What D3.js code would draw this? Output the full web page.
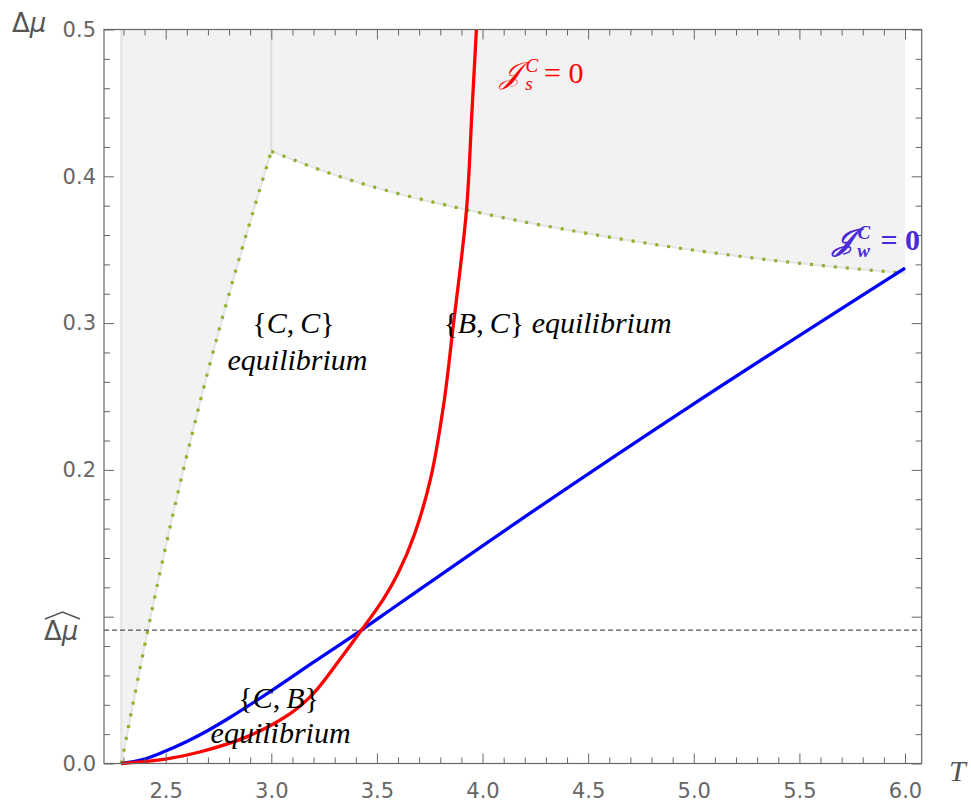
<!DOCTYPE html>
<html>
<head>
<meta charset="utf-8">
<script src="https://cdn.jsdelivr.net/npm/d3@7"></script>
<style>
  body { margin: 0; background: #fff; }
  .tick text { font-family: "DejaVu Sans", sans-serif; font-size: 21px; fill: #666; }
  .lbl { font-family: "Liberation Serif", serif; font-size: 30px; }
</style>
</head>
<body>
<svg id="svg"></svg>
<script>
// values
const T0 = 2.29;
const xTicks = [2.5, 3.0, 3.5, 4.0, 4.5, 5.0, 5.5, 6.0];
const yTicks = [0.0, 0.1, 0.2, 0.3, 0.4, 0.5];
const yTickLabels = ['0.0', '', '0.2', '0.3', '0.4', '0.5'];
const muHat = 0.0909;

// boundary of the shaded region (dotted)
const dottedLeftT = [2.29, 2.40, 2.53, 2.666, 3.0];
const dottedLeftMu = [0, 0.080, 0.167, 0.248, 0.417];
const dottedRightT = [3.0, 3.32, 3.93, 4.5, 5.36, 6.0];
const dottedRightMu = [0.417, 0.400, 0.377, 0.361, 0.343, 0.334];

// J_s^C = 0 (red)
const redT = [2.29, 2.5, 2.666, 2.886, 3.091, 3.201, 3.328, 3.427, 3.53, 3.6, 3.675, 3.754, 3.816, 3.859, 3.924, 3.95, 3.971];
const redMu = [0, 0.003, 0.008, 0.0183, 0.0342, 0.048, 0.0715, 0.0909, 0.1118, 0.1296, 0.155, 0.194, 0.2445, 0.2953, 0.377, 0.4445, 0.5];

// J_w^C = 0 (blue)
const blueT = [2.29, 2.4, 2.5, 2.6, 2.7, 2.8, 3.0, 3.2, 3.427, 3.612, 4.179, 5.0, 6.0];
const blueMu = [0, 0.003, 0.0085, 0.015, 0.0225, 0.031, 0.0495, 0.069, 0.0909, 0.1095, 0.166, 0.245, 0.3375];

const width = 971, height = 804;
const svg = d3.select('#svg').attr('width', width).attr('height', height);

const x = d3.scaleLinear().domain([2.208, 6.079]).range([104, 921.7]);
const y = d3.scaleLinear().domain([0, 0.5]).range([763.5, 29.5]);

const zip = (a, b) => a.map((t, i) => [t, b[i]]);
const left = zip(dottedLeftT, dottedLeftMu);
const right = zip(dottedRightT, dottedRightMu);

const smooth = d3.line().x(d => x(d[0])).y(d => y(d[1])).curve(d3.curveMonotoneX);
const spline = d3.line().x(d => x(d[0])).y(d => y(d[1])).curve(d3.curveCatmullRom.alpha(0.5));

// shaded region above the dotted curve
const region = [...left, ...right.slice(1), [6.0, 0.5], [T0, 0.5]];
svg.append('path')
  .attr('d', d3.line().x(d => x(d[0])).y(d => y(d[1]))(region))
  .attr('fill', '#f2f2f2');

// faint edges of the region
svg.append('path').attr('d', smooth(left)).attr('fill', 'none').attr('stroke', '#e4e4e4').attr('stroke-width', 2);
svg.append('path').attr('d', smooth(right)).attr('fill', 'none').attr('stroke', '#e4e4e4').attr('stroke-width', 2);
svg.append('line').attr('x1', x(T0)).attr('x2', x(T0)).attr('y1', y(0)).attr('y2', y(0.5))
  .attr('stroke', '#e2e2e2').attr('stroke-width', 2);
svg.append('line').attr('x1', x(3.0)).attr('x2', x(3.0)).attr('y1', y(0.417)).attr('y2', y(0.5))
  .attr('stroke', '#dcdcdc').attr('stroke-width', 2);

// dotted boundary
[left, right].forEach(seg => {
  svg.append('path').attr('d', smooth(seg))
    .attr('fill', 'none').attr('stroke', '#8db22a').attr('stroke-width', 3.2)
    .attr('stroke-dasharray', '3 9');
});

// dashed reference line
svg.append('line').attr('x1', x.range()[0]).attr('x2', x.range()[1])
  .attr('y1', y(muHat)).attr('y2', y(muHat))
  .attr('stroke', '#555').attr('stroke-width', 1.2).attr('stroke-dasharray', '5 3');

// curves
svg.append('path').attr('d', spline(zip(blueT, blueMu)))
  .attr('fill', 'none').attr('stroke', '#0000ff').attr('stroke-width', 3.3);
svg.append('path').attr('d', spline(zip(redT, redMu)))
  .attr('fill', 'none').attr('stroke', '#ff0000').attr('stroke-width', 3.3);

// axes and frame
const minorX = d3.range(2.3, 6.05, 0.1).filter(v => !xTicks.some(t => Math.abs(t - v) < 1e-6));
const minorY = d3.range(0.02, 0.5, 0.02).filter(v => !yTicks.some(t => Math.abs(t - v) < 1e-6));

svg.append('g').attr('transform', `translate(0,${y(0)})`)
  .call(d3.axisBottom(x).tickValues(xTicks).tickSize(-10).tickPadding(20).tickFormat(d3.format('.1f')));
svg.append('g').attr('transform', `translate(0,${y(0)})`)
  .call(d3.axisBottom(x).tickValues(minorX).tickSize(-6).tickFormat(''));
svg.append('g').attr('transform', `translate(0,${y(0.5)})`)
  .call(d3.axisTop(x).tickValues(xTicks).tickSize(-10).tickFormat(''));
svg.append('g').attr('transform', `translate(0,${y(0.5)})`)
  .call(d3.axisTop(x).tickValues(minorX).tickSize(-6).tickFormat(''));

svg.append('g').attr('transform', `translate(${x.range()[0]},0)`)
  .call(d3.axisLeft(y).tickValues(yTicks).tickSize(-10).tickPadding(8).tickFormat((d, i) => yTickLabels[i]));
svg.append('g').attr('transform', `translate(${x.range()[0]},0)`)
  .call(d3.axisLeft(y).tickValues(minorY).tickSize(-6).tickFormat(''));
svg.append('g').attr('transform', `translate(${x.range()[1]},0)`)
  .call(d3.axisRight(y).tickValues(yTicks).tickSize(-10).tickFormat(''));
svg.append('g').attr('transform', `translate(${x.range()[1]},0)`)
  .call(d3.axisRight(y).tickValues(minorY).tickSize(-6).tickFormat(''));

svg.selectAll('.domain').remove();
svg.selectAll('.tick line').attr('stroke', '#666');

svg.append('rect')
  .attr('x', x.range()[0]).attr('y', y.range()[1])
  .attr('width', x.range()[1] - x.range()[0]).attr('height', y.range()[0] - y.range()[1])
  .attr('fill', 'none').attr('stroke', '#666').attr('stroke-width', 1.2);

// axis titles
svg.append('text').attr('x', 12).attr('y', 32)
  .attr('font-family', 'DejaVu Sans, sans-serif').attr('font-size', 26).attr('fill', '#555')
  .html('Δ<tspan font-style="italic">μ</tspan>');
svg.append('text').attr('x', 949).attr('y', 781)
  .attr('font-family', 'Liberation Serif, serif').attr('font-style', 'italic').attr('font-size', 30).attr('fill', '#555')
  .text('T');

// Δμ hat label
svg.append('text').attr('x', 44).attr('y', y(muHat) + 10)
  .attr('font-family', 'DejaVu Sans, sans-serif').attr('font-size', 26).attr('fill', '#555')
  .html('Δ<tspan font-style="italic">μ</tspan>');
svg.append('path')
  .attr('d', `M45,${y(muHat) - 11} L62.5,${y(muHat) - 18} L80,${y(muHat) - 11}`)
  .attr('fill', 'none').attr('stroke', '#555').attr('stroke-width', 1.6);

// region labels
function label(tx, ty, anchor, html) {
  svg.append('text').attr('class', 'lbl')
    .attr('x', x(tx)).attr('y', y(ty)).attr('text-anchor', anchor)
    .html(html);
}
const it = s => `<tspan font-style="italic">${s}</tspan>`;
label(3.105, 0.2933, 'middle', `{${it('C')},\u2009${it('C')}}`);
label(3.124, 0.268, 'middle', it('equilibrium'));
label(3.815, 0.2933, 'start', `{${it('B')},\u2009${it('C')}} ${it('equilibrium')}`);
label(3.035, 0.0378, 'middle', `{${it('C')},\u2009${it('B')}}`);
label(3.044, 0.014, 'middle', it('equilibrium'));

// curve labels
svg.append('text').attr('class', 'lbl').attr('fill', '#ff0000')
  .attr('x', x(4.085)).attr('y', y(0.4636))
  .html(`${it('𝒥')}<tspan font-size="19" dx="4" dy="-11" font-style="italic">C</tspan><tspan font-size="19" dx="-13" dy="18" font-style="italic">s</tspan><tspan dx="4" dy="-7"> = 0</tspan>`);
svg.append('text').attr('class', 'lbl').attr('fill', '#4a2ad8').attr('font-weight', 'bold')
  .attr('x', 920).attr('y', y(0.35)).attr('text-anchor', 'end')
  .html(`${it('𝒥')}<tspan font-size="19" dx="4" dy="-11" font-style="italic">C</tspan><tspan font-size="19" dx="-13" dy="18" font-style="italic">w</tspan><tspan dx="3" dy="-7"> = 0</tspan>`);
</script>
</body>
</html>
